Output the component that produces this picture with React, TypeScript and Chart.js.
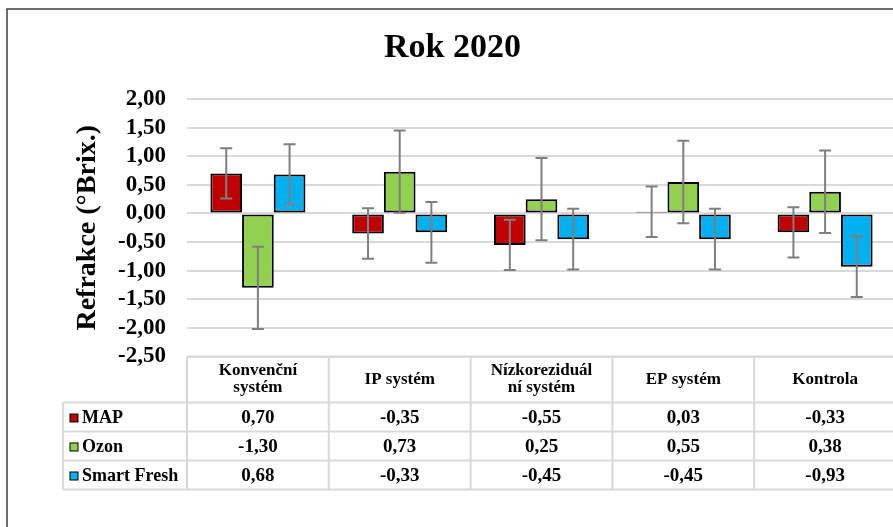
import React, { useEffect, useRef } from "react";
import { Chart, registerables } from "chart.js";

Chart.register(...registerables);

const title = "Rok 2020";
const yAxisTitle = "Refrakce (°Brix.)";
const categories: string[][] = [
  ["Konvenční", "systém"],
  ["IP systém"],
  ["Nízkoreziduál", "ní systém"],
  ["EP systém"],
  ["Kontrola"],
];
const seriesNames = ["MAP", "Ozon", "Smart Fresh"];
const seriesColors = ["#C00000", "#92D050", "#00B0F0"];
const mapValues = [0.7, -0.35, -0.55, 0.03, -0.33];
const ozonValues = [-1.3, 0.73, 0.25, 0.55, 0.38];
const smartFreshValues = [0.68, -0.33, -0.45, -0.45, -0.93];
const mapErrors = [0.44, 0.44, 0.44, 0.44, 0.44];
const ozonErrors = [0.72, 0.72, 0.72, 0.72, 0.72];
const smartFreshErrors = [0.53, 0.53, 0.53, 0.53, 0.53];
const yMin = -2.5;
const yMax = 2.0;
const yStep = 0.5;

const FONT = "'Liberation Serif', 'Times New Roman', serif";
const fmt = (v: number) => v.toFixed(2).replace(".", ",");

const errorBarPlugin = {
  id: "errorBars",
  afterDatasetsDraw(chart: any) {
    const ctx = chart.ctx;
    const y = chart.scales.y;
    ctx.save();
    ctx.strokeStyle = "#7f7f7f";
    ctx.lineWidth = 2;
    chart.data.datasets.forEach((ds: any, di: number) => {
      const meta = chart.getDatasetMeta(di);
      meta.data.forEach((el: any, i: number) => {
        const v = ds.data[i];
        const e = ds.errors[i];
        const yt = y.getPixelForValue(v + e);
        const yb = y.getPixelForValue(v - e);
        const x = el.x;
        ctx.beginPath();
        ctx.moveTo(x, yt);
        ctx.lineTo(x, yb);
        ctx.moveTo(x - 6, yt);
        ctx.lineTo(x + 6, yt);
        ctx.moveTo(x - 6, yb);
        ctx.lineTo(x + 6, yb);
        ctx.stroke();
      });
    });
    ctx.restore();
  },
};

const decorPlugin = {
  id: "decor",
  afterDraw(chart: any) {
    const ctx = chart.ctx;
    const area = chart.chartArea;
    const xs = chart.scales.x;
    ctx.save();

    // outer frame
    ctx.strokeStyle = "#404040";
    ctx.lineWidth = 1.5;
    ctx.strokeRect(7, 9, chart.width + 20, chart.height + 20);

    // title
    ctx.fillStyle = "#000";
    ctx.font = `bold 34px ${FONT}`;
    ctx.textAlign = "center";
    ctx.textBaseline = "alphabetic";
    ctx.fillText(title, chart.width / 2, 57);

    // y axis title
    ctx.save();
    ctx.translate(88, (area.top + area.bottom) / 2);
    ctx.rotate(-Math.PI / 2);
    ctx.font = `bold 28px ${FONT}`;
    ctx.textBaseline = "middle";
    ctx.fillText(yAxisTitle, 0, 0);
    ctx.restore();

    // data table
    const headerH = 46;
    const rowH = 29;
    const legendLeft = 63;
    const top = area.bottom;
    const half = (xs.getPixelForValue(1) - xs.getPixelForValue(0)) / 2;
    const edges = categories.map((_, i) => xs.getPixelForValue(i) - half);
    edges.push(xs.getPixelForValue(categories.length - 1) + half);
    const right = edges[edges.length - 1];
    const bottom = top + headerH + rowH * seriesNames.length;

    ctx.strokeStyle = "#d9d9d9";
    ctx.lineWidth = 2;
    ctx.beginPath();
    ctx.moveTo(edges[0], top);
    ctx.lineTo(right, top);
    for (let r = 0; r <= seriesNames.length; r++) {
      const yy = top + headerH + r * rowH;
      ctx.moveTo(legendLeft, yy);
      ctx.lineTo(right, yy);
    }
    edges.forEach((ex) => {
      ctx.moveTo(ex, top);
      ctx.lineTo(ex, bottom);
    });
    ctx.moveTo(legendLeft, top + headerH);
    ctx.lineTo(legendLeft, bottom);
    ctx.stroke();

    // header labels
    ctx.fillStyle = "#000";
    ctx.textAlign = "center";
    ctx.textBaseline = "middle";
    ctx.font = `bold 17px ${FONT}`;
    categories.forEach((lines, i) => {
      const cx = xs.getPixelForValue(i);
      const cy = top + headerH / 2;
      const lh = 17;
      lines.forEach((ln, li) => {
        ctx.fillText(ln, cx, cy + (li - (lines.length - 1) / 2) * lh);
      });
    });

    // rows
    chart.data.datasets.forEach((ds: any, r: number) => {
      const cy = top + headerH + r * rowH + rowH / 2 + 1;
      ctx.fillStyle = ds.backgroundColor;
      ctx.fillRect(70, cy - 4, 8, 8);
      ctx.strokeStyle = "#000";
      ctx.lineWidth = 1;
      ctx.strokeRect(70, cy - 4, 8, 8);
      ctx.fillStyle = "#000";
      ctx.textAlign = "left";
      ctx.font = `bold 18px ${FONT}`;
      ctx.fillText(ds.label, 82, cy);
      ctx.textAlign = "center";
      ctx.font = `bold 19px ${FONT}`;
      ds.data.forEach((v: number, i: number) => {
        ctx.fillText(fmt(v), xs.getPixelForValue(i), cy);
      });
    });

    ctx.restore();
  },
};

export default function App() {
  const ref = useRef<HTMLCanvasElement>(null);
  useEffect(() => {
    if (!ref.current) return;
    const values = [mapValues, ozonValues, smartFreshValues];
    const errors = [mapErrors, ozonErrors, smartFreshErrors];
    const chart = new Chart(ref.current, {
      type: "bar",
      data: {
        labels: categories,
        datasets: seriesNames.map((name, i) => ({
          label: name,
          data: values[i],
          errors: errors[i],
          backgroundColor: seriesColors[i],
          borderColor: "#000000",
          borderWidth: 2,
          borderSkipped: false,
          categoryPercentage: 0.67,
          barPercentage: 1.0,
        })) as any,
      },
      options: {
        animation: false,
        responsive: false,
        devicePixelRatio: 1,
        layout: { padding: { left: 0, right: 9, top: 99, bottom: 170.5 } },
        plugins: {
          legend: { display: false },
          title: { display: false },
          tooltip: { enabled: false },
        },
        scales: {
          x: { display: false },
          y: {
            min: yMin,
            max: yMax,
            border: { display: false },
            grid: { color: "#d9d9d9", lineWidth: 2, drawTicks: false },
            ticks: {
              stepSize: yStep,
              autoSkip: false,
              padding: 21,
              color: "#000",
              font: { family: FONT, size: 23, weight: "bold" },
              callback: (v: any) => fmt(Number(v)),
            },
            afterFit: (s: any) => {
              s.width = 187;
            },
          },
        },
      },
      plugins: [errorBarPlugin, decorPlugin],
    });
    return () => chart.destroy();
  }, []);

  return (
    <div
      style={{
        position: "fixed",
        left: 0,
        top: 0,
        width: 893,
        height: 527,
        overflow: "hidden",
        background: "#fff",
      }}
    >
      <canvas ref={ref} width={905} height={527} style={{ width: 905, height: 527, display: "block" }} />
    </div>
  );
}
